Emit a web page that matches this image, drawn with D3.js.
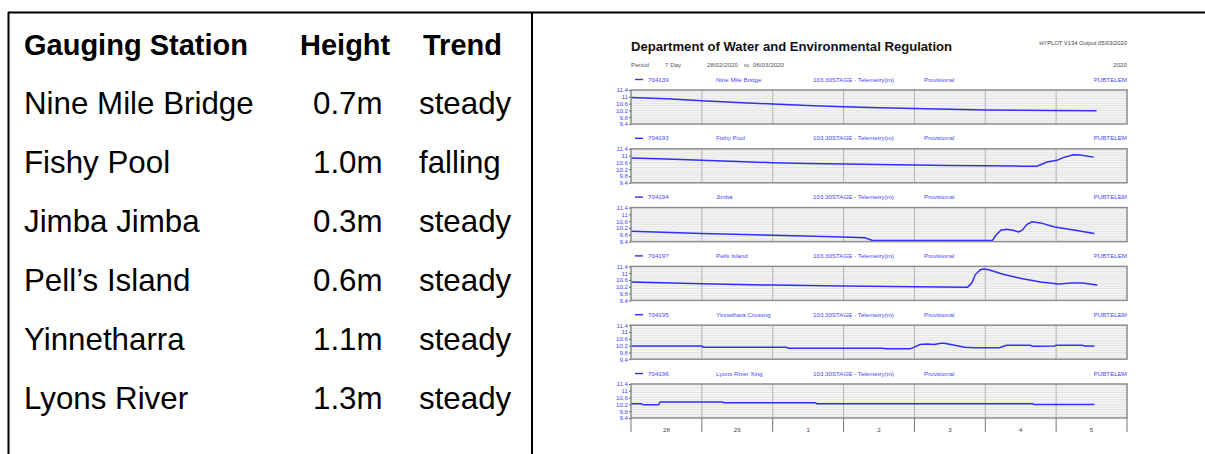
<!DOCTYPE html>
<html>
<head>
<meta charset="utf-8">
<script src="https://cdn.jsdelivr.net/npm/d3@7"></script>
<style>
  body { margin: 0; background: #fff; }
  svg { display: block; font-family: "Liberation Sans", Arial, sans-serif; }
</style>
</head>
<body>
<div id="vis"></div>
<script>
// summary table
const stations = ["Nine Mile Bridge", "Fishy Pool", "Jimba Jimba", "Pell\u2019s Island", "Yinnetharra", "Lyons River"];
const heights = ["0.7m", "1.0m", "0.3m", "0.6m", "1.1m", "1.3m"];
const trends = ["steady", "falling", "steady", "steady", "steady", "steady"];

// hydrograph panels
const siteIds = ["704139", "704193", "704194", "704197", "704195", "704196"];
const siteNames = ["Nine Mile Bridge", "Fishy Pool", "Jimba", "Pells Island", "Yinnethara Crossng", "Lyons River Xing"];
const dayLabels = ["28", "29", "1", "2", "3", "4", "5"];
const yTickValues = [9.4, 9.8, 10.2, 10.6, 11, 11.4];

// [days since 28/02/2020 00:00, stage m]
const nineMile = [[0, 10.96], [0.5, 10.88], [1, 10.77], [1.5, 10.67], [2, 10.57], [2.5, 10.49], [3, 10.42],
  [3.5, 10.36], [4, 10.31], [4.5, 10.27], [5, 10.23], [5.5, 10.21], [6, 10.19], [6.57, 10.18]];
const fishyPool = [[0, 10.86], [0.5, 10.8], [1, 10.72], [1.5, 10.66], [2, 10.58], [2.5, 10.54], [3, 10.5],
  [3.5, 10.47], [4, 10.45], [4.5, 10.42], [5, 10.4], [5.5, 10.38], [5.73, 10.37], [5.87, 10.62],
  [6.01, 10.72], [6.1, 10.88], [6.24, 11.05], [6.34, 11.04], [6.53, 10.91]];
const jimba = [[0, 10.01], [1, 9.87], [2, 9.77], [3, 9.67], [3.3, 9.62], [3.4, 9.48], [5.1, 9.47],
  [5.15, 9.77], [5.22, 10.07], [5.3, 10.13], [5.39, 10.07], [5.47, 9.97], [5.52, 10.07], [5.59, 10.42],
  [5.66, 10.56], [5.78, 10.5], [5.98, 10.26], [6.27, 10.07], [6.54, 9.87]];
const pellsIsland = [[0, 10.48], [1, 10.38], [2, 10.3], [3, 10.24], [4, 10.2], [4.75, 10.18], [4.81, 10.42],
  [4.86, 10.92], [4.93, 11.2], [4.98, 11.24], [5.05, 11.2], [5.25, 10.94], [5.49, 10.7], [5.78, 10.48],
  [6.03, 10.36], [6.22, 10.42], [6.37, 10.42], [6.58, 10.3]];
const yinnethara = [[0, 10.18], [1, 10.17], [1.02, 10.11], [2.19, 10.11], [2.22, 10.05], [3.55, 10.05],
  [3.6, 10.01], [3.94, 10.01], [4.08, 10.26], [4.18, 10.3], [4.28, 10.26], [4.37, 10.34], [4.42, 10.34],
  [4.57, 10.22], [4.71, 10.11], [4.86, 10.07], [5.2, 10.07], [5.3, 10.22], [5.64, 10.22], [5.66, 10.16],
  [5.98, 10.18], [6.0, 10.22], [6.37, 10.22], [6.4, 10.18], [6.54, 10.18]];
const lyonsRiver = [[0, 10.24], [0.15, 10.24], [0.17, 10.18], [0.39, 10.18], [0.41, 10.34], [1.29, 10.34],
  [1.31, 10.3], [2.6, 10.3], [2.62, 10.24], [5.67, 10.24], [5.69, 10.2], [6.54, 10.2]];
const series = [nineMile, fishyPool, jimba, pellsIsland, yinnethara, lyonsRiver];

const width = 1205;
const height = 454;
const plotLeft = 631;
const plotRight = 1127;
const panelTop = 90;
const panelStep = 58.8;
const panelHeight = 34;
const blue = "#4848f8";
const lineBlue = "#2e2eff";
const startDate = new Date(2020, 1, 28);
const toDate = (d) => new Date(startDate.getTime() + d * 86400000);

const svg = d3.select("#vis").append("svg").attr("width", width).attr("height", height);

// ---- table ----
svg.append("line").attr("x1", 8).attr("x2", width).attr("y1", 12.5).attr("y2", 12.5)
  .attr("stroke", "black").attr("stroke-width", 2);
svg.append("line").attr("x1", 8.5).attr("x2", 8.5).attr("y1", 12).attr("y2", height)
  .attr("stroke", "black").attr("stroke-width", 2);
svg.append("line").attr("x1", 532).attr("x2", 532).attr("y1", 12).attr("y2", height)
  .attr("stroke", "black").attr("stroke-width", 2);

const table = svg.append("g");
const headY = 55;
const rowStep = 59;
table.append("text").attr("x", 24).attr("y", headY).attr("font-weight", "bold").attr("font-size", 29).text("Gauging Station");
table.append("text").attr("x", 300).attr("y", headY).attr("font-weight", "bold").attr("font-size", 29).text("Height");
table.append("text").attr("x", 423).attr("y", headY).attr("font-weight", "bold").attr("font-size", 29).text("Trend");

const rows = table.selectAll(".row").data(stations).join("g")
  .attr("class", "row")
  .attr("transform", (d, i) => `translate(0, ${headY + (i + 1) * rowStep})`)
  .attr("font-size", 31.3);
rows.append("text").attr("x", 24).text((d) => d);
rows.append("text").attr("x", 313).text((d, i) => heights[i]);
rows.append("text").attr("x", 419).text((d, i) => trends[i]);

// ---- hydrograph header ----
const hg = svg.append("g");
hg.append("text").attr("x", plotLeft).attr("y", 50.5).attr("font-weight", "bold").attr("font-size", 13.1)
  .attr("fill", "#111").text("Department of Water and Environmental Regulation");
hg.append("text").attr("x", plotRight).attr("y", 45).attr("text-anchor", "end").attr("font-size", 5.8)
  .attr("fill", "#444").text("HYPLOT V134  Output 05/03/2020");
const periodBits = [["Period", 631], ["7 Day", 665], ["28/02/2020", 707], ["to", 744], ["06/03/2020", 753]];
hg.selectAll(".period").data(periodBits).join("text")
  .attr("x", (d) => d[1]).attr("y", 66.5).attr("font-size", 6.2).attr("fill", "#555").text((d) => d[0]);
hg.append("text").attr("x", plotRight).attr("y", 66.5).attr("text-anchor", "end").attr("font-size", 6.2)
  .attr("fill", "#555").text("2020");

// ---- scales ----
const xScale = d3.scaleTime()
  .domain([startDate, toDate(7)])
  .range([plotLeft, plotRight]);
const yScale = d3.scaleLinear()
  .domain([9.4, 11.4])
  .range([panelHeight, 0]);
const line = d3.line()
  .x((d) => xScale(toDate(d[0])))
  .y((d) => yScale(d[1]));
const dayTicks = d3.range(8).map(toDate);

// ---- panels ----
series.forEach((data, i) => {
  const top = panelTop + i * panelStep;
  const g = svg.append("g").attr("transform", `translate(0, ${top})`);

  // series header row
  const hy = -8.5;
  g.append("line").attr("x1", 635).attr("x2", 643).attr("y1", hy - 2).attr("y2", hy - 2)
    .attr("stroke", lineBlue).attr("stroke-width", 1.4);
  const labels = [[siteIds[i], 648, "start"], [siteNames[i], 716, "start"],
    ["103.30STAGE - Telemetry(m)", 813, "start"], ["Provisional", 924, "start"], ["PUBTELEM", plotRight, "end"]];
  g.selectAll(".lab").data(labels).join("text")
    .attr("x", (d) => d[1]).attr("y", hy).attr("text-anchor", (d) => d[2])
    .attr("font-size", 6.2).attr("fill", blue).text((d) => d[0]);

  // horizontal grid
  g.selectAll(".hgrid").data(d3.range(1, 20).map((k) => 9.4 + k * 0.1)).join("line")
    .attr("x1", plotLeft).attr("x2", plotRight)
    .attr("y1", (d) => yScale(d)).attr("y2", (d) => yScale(d))
    .attr("stroke", "#d6d6d6").attr("stroke-width", 0.7);
  // day grid
  g.selectAll(".vgrid").data(dayTicks.slice(1, 7)).join("line")
    .attr("x1", (d) => xScale(d)).attr("x2", (d) => xScale(d))
    .attr("y1", 0).attr("y2", panelHeight)
    .attr("stroke", "#b4b4b4").attr("stroke-width", 1);

  g.append("path").datum(data)
    .attr("d", line)
    .attr("fill", "none")
    .attr("stroke", lineBlue)
    .attr("stroke-width", 1.5);

  g.append("rect").attr("x", plotLeft).attr("y", 0)
    .attr("width", plotRight - plotLeft).attr("height", panelHeight)
    .attr("fill", "none").attr("stroke", "#8c8c8c").attr("stroke-width", 1.5);

  // y axis
  const yAxis = d3.axisLeft(yScale).tickValues(yTickValues).tickSize(2).tickPadding(1)
    .tickFormat(d3.format("~g"));
  const ya = g.append("g").attr("transform", `translate(${plotLeft}, 0)`).call(yAxis);
  ya.select(".domain").remove();
  ya.selectAll("line").attr("stroke", "#666");
  ya.selectAll("text").attr("fill", blue).attr("font-size", 6.2)
    .attr("font-family", "Liberation Sans, Arial, sans-serif");
});

// ---- x axis ----
const axisY = panelTop + 5 * panelStep + panelHeight;
const xa = svg.append("g").attr("transform", `translate(0, ${axisY})`);
xa.selectAll(".tick").data(dayTicks).join("line")
  .attr("x1", (d) => xScale(d)).attr("x2", (d) => xScale(d))
  .attr("y1", 0).attr("y2", 14)
  .attr("stroke", "#777").attr("stroke-width", 1);
xa.selectAll(".daylab").data(dayLabels).join("text")
  .attr("x", (d, i) => xScale(toDate(i + 0.5)))
  .attr("y", 13.5)
  .attr("text-anchor", "middle")
  .attr("font-size", 6.2)
  .attr("fill", "#444")
  .text((d) => d);
</script>
</body>
</html>
